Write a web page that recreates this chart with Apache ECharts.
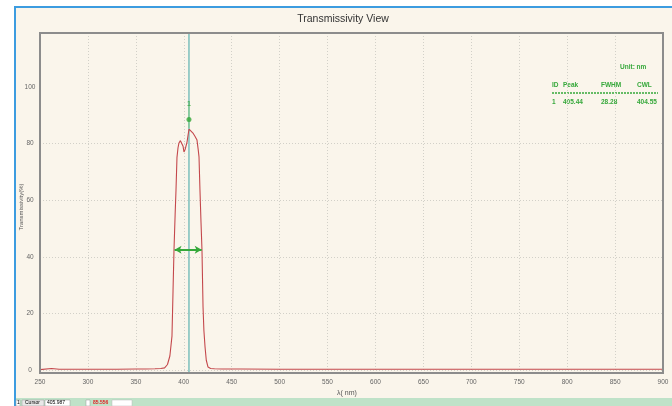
<!DOCTYPE html>
<html><head><meta charset="utf-8">
<script src="https://cdn.jsdelivr.net/npm/echarts@6/dist/echarts.min.js"></script>
<style>html,body{margin:0;padding:0;background:#fff}#c{width:672px;height:406px}</style>
</head><body><div id="c"></div>
<script>
// ---- data ----
var wavelengths = [250, 262, 270, 290, 310, 330, 350, 360, 370, 376, 380, 383, 385.5, 387.7, 388.8, 389.8, 391, 391.9, 392.9, 394, 395, 396.5, 398.2, 399.3, 400.2, 401.5, 403.4, 404.5, 405.5, 407.5, 409.6, 411.8, 413.8, 415, 415.9, 416.9, 418, 419, 420.1, 421, 422.2, 423.5, 425.3, 428, 432, 440, 460, 500, 550, 600, 650, 700, 750, 800, 850, 900];
var transmissivity = [0.2, 0.6, 0.3, 0.3, 0.3, 0.3, 0.4, 0.4, 0.5, 0.6, 0.8, 2, 5, 12, 28, 42.4, 55, 63.6, 75, 78.5, 80.2, 81, 81.2, 79, 77, 78, 80.5, 83, 85.1, 84.7, 83.7, 82.5, 81.2, 78, 75.3, 63.6, 52, 42.4, 22.3, 14, 8.2, 3.5, 1.1, 0.6, 0.5, 0.4, 0.4, 0.3, 0.3, 0.3, 0.3, 0.3, 0.3, 0.3, 0.3, 0.3];
var yTickValues = [0, 20, 40, 60, 80, 100];
var yRange = [-1, 119];
var peakWavelength = [405.44];
var peakMarkerValue = [88.5];
var peakTickTop = [93.5];
var fwhmStart = [390.4];
var fwhmEnd = [418.7];
var halfMax = [42.5];
var tableUnit = ['Unit: nm'];
var tableHeader = ['ID', 'Peak', 'FWHM', 'CWL'];
var tableRow = ['1', '405.44', '28.28', '404.55'];
var titleText = ['Transmissivity View'];
var statusTexts = ['1', 'Cursor', '405.987', '85.556'];

var curve = wavelengths.map(function (w, i) { return [w, transmissivity[i]]; });
var green = '#35a83a';
var font = 'Liberation Sans, Arial, sans-serif';
var colX = [552, 563, 601, 637];

var graphics = [
  { type: 'rect', z: -10, shape: { x: 15, y: 7, width: 670, height: 410 }, style: { fill: '#faf5eb', stroke: '#3c9ce0', lineWidth: 2 } },
  { type: 'rect', z: -9, shape: { x: 16, y: 398, width: 660, height: 10 }, style: { fill: '#bfe2c8' } },
  { type: 'rect', z: 100, shape: { x: 40, y: 33, width: 623, height: 340 }, style: { fill: 'none', stroke: '#8c8c8c', lineWidth: 2 } },
  { type: 'text', x: 343, y: 19, style: { text: titleText[0], font: '10.5px ' + font, fill: '#333', textAlign: 'center', textVerticalAlign: 'middle' } },
  { type: 'text', x: 347, y: 393, style: { text: 'λ( nm)', font: '7px ' + font, fill: '#555', textAlign: 'center', textVerticalAlign: 'middle' } },
  { type: 'text', x: 620, y: 67, style: { text: tableUnit[0], font: 'bold 6.5px ' + font, fill: green, textVerticalAlign: 'middle' } },
  { type: 'line', shape: { x1: 552, y1: 93, x2: 658, y2: 93 }, style: { stroke: green, lineWidth: 1.5, lineDash: [2, 1] } },
  // status bar widgets
  { type: 'rect', shape: { x: 16, y: 400, width: 4, height: 6 }, style: { fill: '#fff', stroke: '#999', lineWidth: 0.5 } },
  { type: 'text', x: 17, y: 403, style: { text: statusTexts[0], font: '5px ' + font, fill: '#000', textVerticalAlign: 'middle' } },
  { type: 'rect', shape: { x: 22, y: 400, width: 22, height: 6 }, style: { fill: '#e8e8e8', stroke: '#999', lineWidth: 0.5 } },
  { type: 'text', x: 25, y: 403, style: { text: statusTexts[1], font: '5px ' + font, fill: '#000', textVerticalAlign: 'middle' } },
  { type: 'rect', shape: { x: 45, y: 400, width: 25, height: 6 }, style: { fill: '#fff', stroke: '#999', lineWidth: 0.5 } },
  { type: 'text', x: 47, y: 403, style: { text: statusTexts[2], font: '5px ' + font, fill: '#000', textVerticalAlign: 'middle' } },
  { type: 'rect', shape: { x: 86, y: 400, width: 4, height: 6 }, style: { fill: '#fff', stroke: '#999', lineWidth: 0.5 } },
  { type: 'text', x: 93, y: 403, style: { text: statusTexts[3], font: 'bold 5px ' + font, fill: '#e02020', textVerticalAlign: 'middle' } },
  { type: 'rect', shape: { x: 112, y: 400, width: 20, height: 6 }, style: { fill: '#fff', stroke: '#bbb', lineWidth: 0.5 } }
];
tableHeader.forEach(function (t, i) {
  graphics.push({ type: 'text', x: colX[i], y: 85, style: { text: t, font: 'bold 6.5px ' + font, fill: green, textVerticalAlign: 'middle' } });
});
tableRow.forEach(function (t, i) {
  graphics.push({ type: 'text', x: colX[i], y: 102, style: { text: t, font: 'bold 6.5px ' + font, fill: green, textVerticalAlign: 'middle' } });
});

var chart = echarts.init(document.getElementById('c'), null, { renderer: 'canvas' });
chart.setOption({
  animation: false,
  backgroundColor: '#ffffff',
  textStyle: { fontFamily: font },
  grid: { left: 40, right: 9, top: 33, bottom: 33, show: false },
  xAxis: {
    type: 'value', min: 250, max: 900, interval: 50,
    axisLine: { show: false }, axisTick: { show: false },
    axisLabel: { fontSize: 6.5, color: '#666', margin: 6 },
    splitLine: { show: true, showMinLine: false, showMaxLine: false, lineStyle: { color: '#d2d0c8', type: [1, 2], width: 1 } }
  },
  yAxis: {
    type: 'value', min: yRange[0], max: yRange[1],
    name: 'Transmissivity(%)', nameLocation: 'middle', nameGap: 16, nameRotate: 90, nameMoveOverlap: false,
    nameTextStyle: { fontSize: 6, color: '#555', padding: [0, 8, 0, 0] },
    axisLine: { show: false },
    axisTick: { show: false, customValues: yTickValues },
    axisLabel: { fontSize: 6.5, color: '#666', margin: 10, align: 'center', customValues: yTickValues },
    splitLine: { show: true, showMinLine: true, showMaxLine: false, lineStyle: { color: '#d2d0c8', type: [1, 2], width: 1 } }
  },
  graphic: graphics,
  series: [
    {
      type: 'line', data: [[peakWavelength[0], yRange[0]], [peakWavelength[0], yRange[1]]],
      symbol: 'none', lineStyle: { color: '#3ea5a5', width: 1 }, z: 2, silent: true
    },
    {
      type: 'line', data: curve, symbol: 'none', lineStyle: { color: '#c4484c', width: 1.1 }, z: 3
    },
    {
      type: 'line', data: [[peakWavelength[0], peakMarkerValue[0] - 3], [peakWavelength[0], peakTickTop[0]]],
      symbol: 'none', lineStyle: { color: '#7cc97e', width: 1 }, z: 4, silent: true
    },
    {
      type: 'scatter', data: [[peakWavelength[0], peakMarkerValue[0]]], symbol: 'circle', symbolSize: 5,
      itemStyle: { color: green }, z: 5,
      label: { show: true, formatter: function () { return '1'; }, position: 'top', distance: 9, fontSize: 7, fontWeight: 'bold', color: green },
      markLine: {
        silent: true, symbol: ['arrow', 'arrow'], symbolSize: [6, 7], label: { show: false },
        lineStyle: { color: green, width: 2, type: 'solid' },
        data: [
          [{ coord: [fwhmStart[0], halfMax[0]] }, { coord: [fwhmEnd[0], halfMax[0]] }]
        ]
      }
    }
  ]
});
</script></body></html>
